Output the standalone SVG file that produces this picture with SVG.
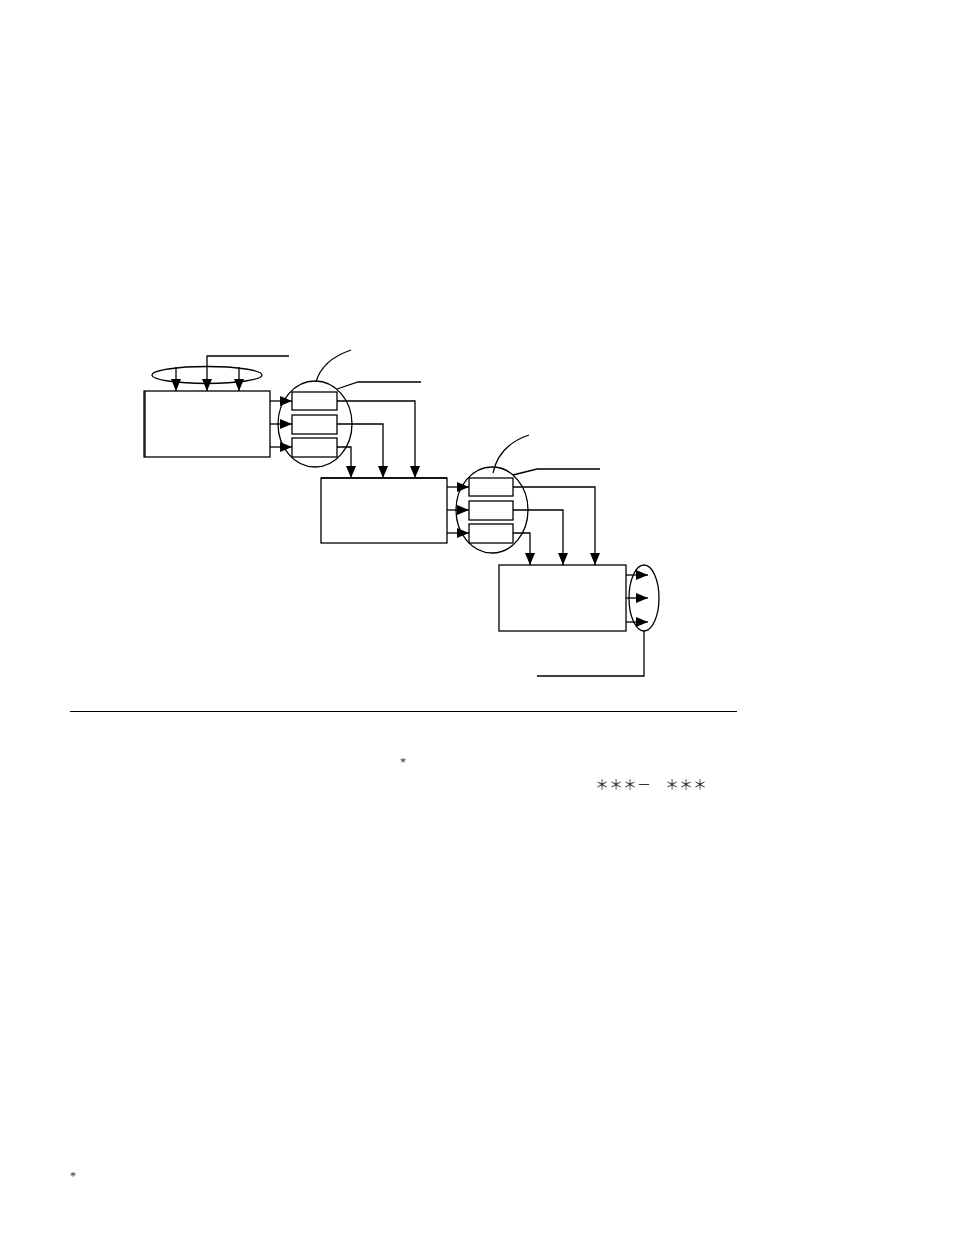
<svg xmlns="http://www.w3.org/2000/svg" width="954" height="1243" viewBox="0 0 954 1243">
<style>
.ln{fill:none;stroke:#000;stroke-width:1.3}
.bx{fill:#fff;stroke:#000;stroke-width:1.3}
.el{fill:none;stroke:#000;stroke-width:1.3}
.ar{fill:none;stroke:#000;stroke-width:1.3;marker-end:url(#ah)}
.t{font-family:"Liberation Serif","Noto Sans CJK JP",serif;fill:#333}
</style>
<defs>
<marker id="ah" markerUnits="userSpaceOnUse" markerWidth="13" markerHeight="11" refX="12" refY="5" orient="auto">
<path d="M0,0 L12,5 L0,10 z" fill="#000"/>
</marker>
</defs>
<rect width="954" height="1243" fill="#fff"/>
<g id="input-group">
<ellipse class="el" cx="207" cy="375" rx="55" ry="8.5"/>
<polyline class="ln" points="207,366 207,356 289,356"/>
</g>
<g id="box1"><rect class="bx" x="144" y="391" width="126" height="66"/><line class="ln" x1="145" y1="391" x2="145" y2="457" stroke-width="2"/></g>
<g id="group1">
<ellipse class="el" cx="315" cy="424" rx="37" ry="43"/>
<rect class="bx" x="292" y="392" width="45" height="18"/>
<rect class="bx" x="292" y="415" width="45" height="19"/>
<rect class="bx" x="292" y="438" width="45" height="19"/>
<path class="ln" d="M316,382 Q322,360 351,350"/>
<polyline class="ln" points="337,389 358,382 421,382"/>
</g>
<g id="box2"><rect class="bx" x="321" y="478" width="126" height="65"/><line class="ln" x1="321" y1="478" x2="447" y2="478" stroke-width="2"/></g>
<g id="group2">
<ellipse class="el" cx="492" cy="510" rx="36" ry="43"/>
<rect class="bx" x="469" y="478" width="44" height="18"/>
<rect class="bx" x="469" y="501" width="44" height="19"/>
<rect class="bx" x="469" y="524" width="44" height="19"/>
<path class="ln" d="M493,473 Q499,445 529,435"/>
<polyline class="ln" points="513,475 537,469 600,469"/>
</g>
<g id="box3"><rect class="bx" x="499" y="565" width="127" height="66"/></g>
<g id="output-group">
<ellipse class="el" cx="644" cy="598" rx="15" ry="33"/>
<polyline class="ln" points="644,631 644,676 537,676"/>
</g>
<g id="connectors">
<line class="ar" x1="176" y1="367" x2="176" y2="391"/>
<line class="ar" x1="207" y1="367" x2="207" y2="391"/>
<line class="ar" x1="239" y1="367" x2="239" y2="391"/>
<line class="ar" x1="270" y1="401" x2="292" y2="401"/>
<line class="ar" x1="270" y1="424" x2="292" y2="424"/>
<line class="ar" x1="270" y1="447" x2="292" y2="447"/>
<polyline class="ar" points="337,401 415,401 415,478"/>
<polyline class="ar" points="337,424 383,424 383,478"/>
<polyline class="ar" points="337,447 351,447 351,478"/>
<line class="ar" x1="447" y1="487" x2="469" y2="487"/>
<line class="ar" x1="447" y1="510" x2="469" y2="510"/>
<line class="ar" x1="447" y1="533" x2="469" y2="533"/>
<polyline class="ar" points="513,487 595,487 595,565"/>
<polyline class="ar" points="513,510 563,510 563,565"/>
<polyline class="ar" points="513,533 530,533 530,565"/>
<line class="ar" x1="626" y1="575" x2="648" y2="575"/>
<line class="ar" x1="626" y1="598" x2="648" y2="598"/>
<line class="ar" x1="626" y1="622" x2="648" y2="622"/>
</g>
<line x1="70" y1="711.5" x2="737" y2="711.5" stroke="#000" stroke-width="1"/>
<text class="t" x="400" y="766" font-size="12">*</text>
<text class="t" x="595" y="789" font-size="14">＊＊＊－　＊＊＊</text>
<text class="t" x="70" y="1180" font-size="12">*</text>
</svg>
